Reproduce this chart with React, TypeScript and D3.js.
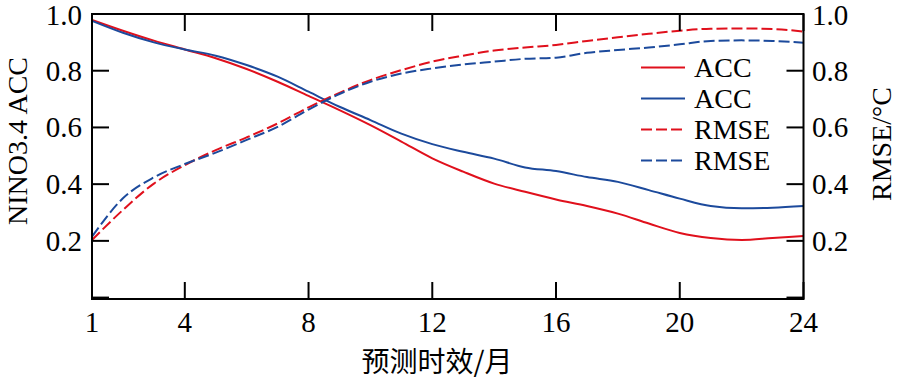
import { useEffect, useRef } from 'react';
import * as d3 from 'd3';

// lead time in months
const months = d3.range(1, 25);

const accRed = [0.979, 0.941, 0.906, 0.875, 0.844, 0.806, 0.761, 0.711, 0.661, 0.608, 0.55, 0.491,
  0.444, 0.402, 0.373, 0.346, 0.323, 0.296, 0.261, 0.228, 0.21, 0.203, 0.21, 0.217];
const accBlue = [0.976, 0.934, 0.9, 0.875, 0.853, 0.82, 0.779, 0.726, 0.673, 0.626, 0.578, 0.541,
  0.514, 0.49, 0.459, 0.446, 0.425, 0.408, 0.379, 0.349, 0.323, 0.315, 0.317, 0.323];
const rmseRed = [0.203, 0.309, 0.402, 0.467, 0.52, 0.565, 0.614, 0.671, 0.722, 0.767, 0.802, 0.832,
  0.853, 0.871, 0.882, 0.891, 0.905, 0.918, 0.93, 0.941, 0.948, 0.949, 0.947, 0.938];
const rmseBlue = [0.215, 0.35, 0.424, 0.471, 0.511, 0.556, 0.602, 0.663, 0.718, 0.761, 0.79, 0.808,
  0.822, 0.832, 0.842, 0.846, 0.863, 0.873, 0.882, 0.893, 0.905, 0.907, 0.905, 0.899];

const xTicks = [1, 4, 8, 12, 16, 20, 24];
const yTicks = [0, 0.2, 0.4, 0.6, 0.8, 1.0];
const legendNames = ['ACC', 'ACC', 'RMSE', 'RMSE'];

const RED = '#e0101c';
const BLUE = '#1c4a9c';
const SERIF = '"Liberation Serif", "Times New Roman", serif';

const App = () => {
  const svgRef = useRef<SVGSVGElement>(null);

  useEffect(() => {
    const svg = d3.select(svgRef.current);
    svg.selectAll('*').remove();

    const left = 92, right = 803.5, top = 14, bottom = 299;

    const x = d3.scaleLinear().domain([1, 24]).range([left, right]);
    const y = d3.scaleLinear().domain([-0.005, 1]).range([bottom, top]);

    const series = [
      { values: accRed, color: RED, dash: null },
      { values: accBlue, color: BLUE, dash: null },
      { values: rmseRed, color: RED, dash: '11,4' },
      { values: rmseBlue, color: BLUE, dash: '11,4' },
    ];

    const line = d3.line<number>()
      .x((_, i) => x(months[i]))
      .y(d => y(d))
      .curve(d3.curveMonotoneX);

    series.forEach(s => {
      svg.append('path')
        .datum(s.values)
        .attr('fill', 'none')
        .attr('stroke', s.color)
        .attr('stroke-width', 2)
        .attr('stroke-dasharray', s.dash)
        .attr('d', line);
    });

    const tickLen = 17;

    // x ticks, bottom and top, pointing inward
    const tickG = svg.append('g').attr('stroke', '#000').attr('stroke-width', 2);
    xTicks.forEach(t => {
      tickG.append('line').attr('x1', x(t)).attr('x2', x(t)).attr('y1', bottom).attr('y2', bottom - tickLen);
      tickG.append('line').attr('x1', x(t)).attr('x2', x(t)).attr('y1', top).attr('y2', top + tickLen);
    });
    yTicks.forEach(t => {
      tickG.append('line').attr('x1', left).attr('x2', left + tickLen).attr('y1', y(t)).attr('y2', y(t));
      tickG.append('line').attr('x1', right).attr('x2', right - tickLen).attr('y1', y(t)).attr('y2', y(t));
    });

    // frame
    svg.append('rect')
      .attr('x', left).attr('y', top)
      .attr('width', right - left).attr('height', bottom - top)
      .attr('fill', 'none').attr('stroke', '#000').attr('stroke-width', 2);

    const labels = svg.append('g').attr('font-family', SERIF).attr('font-size', 29).attr('fill', '#000');

    xTicks.forEach(t => {
      labels.append('text')
        .attr('x', x(t)).attr('y', 332)
        .attr('text-anchor', 'middle')
        .text(t);
    });

    yTicks.filter(t => t > 0).forEach(t => {
      const yy = y(t) + (t === 1 ? 1 : 0);
      labels.append('text')
        .attr('x', 82).attr('y', yy)
        .attr('dy', '0.34em')
        .attr('text-anchor', 'end')
        .text(d3.format('.1f')(t));
      labels.append('text')
        .attr('x', 812).attr('y', yy)
        .attr('dy', '0.34em')
        .attr('text-anchor', 'start')
        .text(d3.format('.1f')(t));
    });

    // axis titles
    labels.append('text')
      .attr('transform', 'translate(27,141) rotate(-90)')
      .attr('text-anchor', 'middle')
      .attr('font-size', 28)
      .text('NINO3.4 ACC');

    labels.append('text')
      .attr('transform', 'translate(891,144) rotate(-90)')
      .attr('text-anchor', 'middle')
      .attr('font-size', 28)
      .text('RMSE/°C');

    svg.append('text')
      .attr('x', 437).attr('y', 372)
      .attr('text-anchor', 'middle')
      .attr('font-family', '"Noto Sans CJK SC", sans-serif')
      .attr('font-size', 28)
      .attr('fill', '#000')
      .text('预测时效/月');

    // legend
    const legend = svg.append('g');
    series.forEach((s, i) => {
      const base = 77 + i * 31;
      legend.append('line')
        .attr('x1', 641).attr('x2', 685)
        .attr('y1', base - 9.5).attr('y2', base - 9.5)
        .attr('stroke', s.color).attr('stroke-width', 2)
        .attr('stroke-dasharray', s.dash);
      legend.append('text')
        .attr('x', 694).attr('y', base)
        .attr('font-family', SERIF).attr('font-size', 28)
        .text(legendNames[i]);
    });
  }, []);

  return (
    <svg
      ref={svgRef}
      width={900}
      height={384}
      style={{ position: 'absolute', left: 0, top: 0, background: '#fff' }}
    />
  );
};

export default App;
